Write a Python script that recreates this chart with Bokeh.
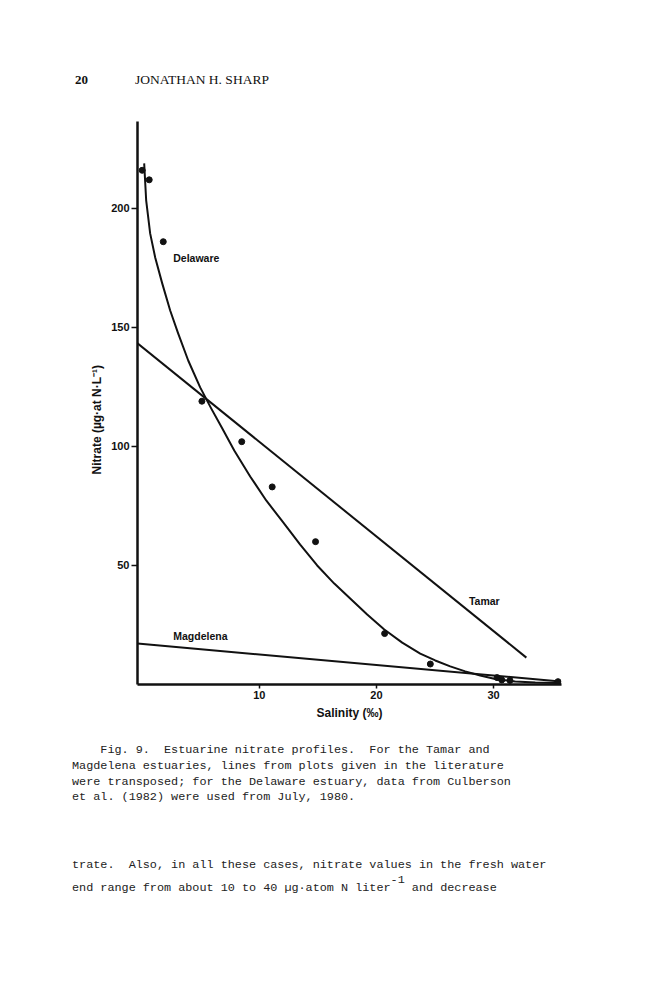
from bokeh.plotting import figure
from bokeh.models import Range1d, FixedTicker, Label, Div
from bokeh.layouts import column
from bokeh.embed import file_html
from bokeh.resources import INLINE

# ---- data ----
delaware_sal = [0.0, 0.6, 1.8, 5.1, 8.5, 11.1, 14.8, 20.7, 24.6, 30.3, 30.7, 31.4, 35.5]
delaware_no3 = [216, 212, 186, 119, 102, 83, 60, 21.4, 8.6, 2.9, 1.9, 1.7, 1.2]

delaware_fit_sal = [0.17, 0.34, 0.68, 1.11, 1.71, 2.39, 3.07, 3.93, 4.95, 5.89,
                    6.83, 7.86, 9.22, 10.59, 12.04, 13.49, 14.94, 16.40, 17.76, 19.21,
                    20.67, 22.20, 23.74, 25.02, 26.30, 27.58, 28.86, 30.32, 31.85, 33.56,
                    35.35]
delaware_fit_no3 = [218.9, 203.4, 189.5, 179.4, 168.5, 157.1, 147.5, 136.1, 124.8, 116.0,
                    107.6, 98.3, 87.4, 77.3, 68.1, 58.8, 50.0, 42.4, 36.1, 29.4,
                    23.1, 17.6, 13.0, 10.1, 7.6, 5.5, 3.8, 2.1, 1.3, 0.8,
                    0.6]

tamar_sal = [-0.4, 32.8]
tamar_no3 = [143.3, 11.3]

magdelena_sal = [-0.4, 35.7]
magdelena_no3 = [17.2, 1.3]

x_ticks = [10, 20, 30]
y_ticks = [50, 100, 150, 200]

series_labels = ["Delaware", "Tamar", "Magdelena"]

INK = "#111111"
LABEL_FONT = "Liberation Sans"

p = figure(width=656, height=628,
           x_range=Range1d(-0.4, 35.8), y_range=Range1d(0, 236.5),
           output_backend="svg", toolbar_location=None,
           min_border_left=137, min_border_right=95,
           min_border_top=21, min_border_bottom=44)
p.outline_line_color = None
p.grid.visible = False
p.background_fill_color = "white"
p.border_fill_color = "white"

p.xaxis.ticker = FixedTicker(ticks=x_ticks)
p.yaxis.ticker = FixedTicker(ticks=y_ticks)
for ax in (p.xaxis, p.yaxis):
    ax.axis_line_width = 2.5
    ax.axis_line_color = INK
    ax.major_tick_line_color = INK
    ax.major_tick_line_width = 1.5
    ax.minor_tick_line_color = None
    ax.major_tick_in = 0
    ax.major_label_text_font = LABEL_FONT
    ax.major_label_text_font_style = "bold"
    ax.major_label_text_font_size = "11px"
    ax.major_label_text_color = INK
    ax.axis_label_text_font = LABEL_FONT
    ax.axis_label_text_font_style = "bold"
    ax.axis_label_text_color = INK

p.xaxis.major_tick_out = 4
p.xaxis.major_label_standoff = 2
p.xaxis.axis_label = "Salinity (‰)"
p.xaxis.axis_label_text_font_size = "12px"
p.xaxis.axis_label_standoff = 4

p.yaxis.major_tick_out = 6
p.yaxis.major_label_standoff = 2
p.yaxis.axis_label = "Nitrate   (µg·at N·L⁻¹)" + "\u00a0" * 8
p.yaxis.axis_label_text_font_size = "12px"
p.yaxis.axis_label_standoff = 4

# lines
p.line(delaware_fit_sal, delaware_fit_no3, line_color=INK, line_width=2, line_join="round")
p.line(tamar_sal, tamar_no3, line_color=INK, line_width=2)
p.line(magdelena_sal, magdelena_no3, line_color=INK, line_width=2)
p.scatter(delaware_sal, delaware_no3, size=6, fill_color=INK, line_color=INK)

label_pos = [(2.65, 179), (27.9, 34.9), (2.65, 20.2)]
for txt, (lx, ly) in zip(series_labels, label_pos):
    p.add_layout(Label(x=lx, y=ly, text=txt, text_font=LABEL_FONT,
                       text_font_style="bold", text_font_size="10.5px",
                       text_color=INK, text_baseline="middle", text_align="left"))

header = Div(width=656, height=100, margin=0, text=(
    '<div style="position:relative;width:656px;height:100px;color:#111;">'
    '<span style="position:absolute;left:75px;top:72px;font-family:\'Liberation Serif\';'
    'font-weight:bold;font-size:13px;line-height:16px;white-space:pre;">20</span>'
    '<span style="position:absolute;left:135px;top:72px;font-family:\'Liberation Serif\';'
    'font-size:13.5px;line-height:16px;white-space:pre;">JONATHAN H. SHARP</span>'
    '</div>'))

caption_lines = [
    "    Fig. 9.  Estuarine nitrate profiles.  For the Tamar and",
    "Magdelena estuaries, lines from plots given in the literature",
    "were transposed; for the Delaware estuary, data from Culberson",
    "et al. (1982) were used from July, 1980.",
]
body_line1 = "trate.  Also, in all these cases, nitrate values in the fresh water"
body_line2a = "end range from about 10 to 40 µg·atom N liter"
body_sup = "-1"
body_line2b = " and decrease"

mono = "font-family:'Liberation Mono';font-size:11.8px;white-space:pre;color:#222;"
caption = Div(width=656, height=200, margin=0, text=(
    '<div style="position:relative;width:656px;height:200px;">'
    f'<div style="position:absolute;left:72px;top:15px;line-height:15.8px;{mono}">'
    + "<br>".join(caption_lines) +
    '</div>'
    f'<div style="position:absolute;left:72px;top:126px;line-height:23px;{mono}">'
    + body_line1 + "<br>" + body_line2a +
    f'<span style="position:relative;top:-8px;">{body_sup}</span>' + body_line2b +
    '</div></div>'))

layout = column(header, p, caption, spacing=0)
open("out.html", "w").write(file_html(layout, INLINE))
